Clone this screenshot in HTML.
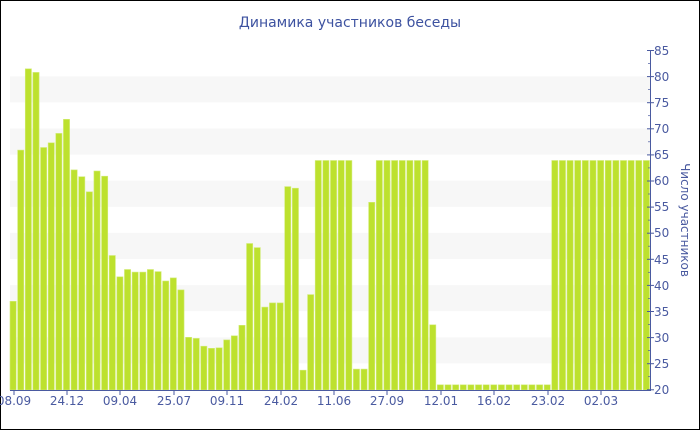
<!DOCTYPE html>
<html><head><meta charset="utf-8"><style>
html,body{margin:0;padding:0;background:#fff}
svg{display:block;font-family:"DejaVu Sans","Liberation Sans",sans-serif}
</style></head><body>
<svg width="700" height="430" xmlns="http://www.w3.org/2000/svg">
<rect x="0.5" y="0.5" width="699" height="429" fill="#fff" stroke="#000"/>
<text x="350" y="27" text-anchor="middle" font-size="14" fill="#3d52a0">Динамика участников беседы</text>
<g fill="#f7f7f7">
<rect x="10" y="76.3" width="640" height="26.1"/>
<rect x="10" y="128.5" width="640" height="26.1"/>
<rect x="10" y="180.7" width="640" height="26.1"/>
<rect x="10" y="232.9" width="640" height="26.1"/>
<rect x="10" y="285.1" width="640" height="26.1"/>
<rect x="10" y="337.3" width="640" height="26.1"/>
</g>
<g transform="translate(0,390) scale(1,-1)" fill="#bde12e" stroke="#d3ec7a" stroke-width="0.6">
<rect x="10" width="6.2" height="88.7"/>
<rect x="17.63" width="6.2" height="239.9"/>
<rect x="25.26" width="6.2" height="321.2"/>
<rect x="32.89" width="6.2" height="317.6"/>
<rect x="40.52" width="6.2" height="242.5"/>
<rect x="48.15" width="6.2" height="247.2"/>
<rect x="55.78" width="6.2" height="256.6"/>
<rect x="63.41" width="6.2" height="270.7"/>
<rect x="71.04" width="6.2" height="220.1"/>
<rect x="78.67" width="6.2" height="213.3"/>
<rect x="86.3" width="6.2" height="198.2"/>
<rect x="93.93" width="6.2" height="219"/>
<rect x="101.56" width="6.2" height="213.8"/>
<rect x="109.19" width="6.2" height="134.5"/>
<rect x="116.82" width="6.2" height="113.2"/>
<rect x="124.45" width="6.2" height="120.5"/>
<rect x="132.08" width="6.2" height="117.9"/>
<rect x="139.71" width="6.2" height="117.9"/>
<rect x="147.34" width="6.2" height="120.5"/>
<rect x="154.97" width="6.2" height="118.4"/>
<rect x="162.6" width="6.2" height="109"/>
<rect x="170.23" width="6.2" height="112.1"/>
<rect x="177.86" width="6.2" height="100.1"/>
<rect x="185.49" width="6.2" height="52.7"/>
<rect x="193.12" width="6.2" height="51.6"/>
<rect x="200.75" width="6.2" height="43.8"/>
<rect x="208.38" width="6.2" height="41.7"/>
<rect x="216.01" width="6.2" height="42.2"/>
<rect x="223.64" width="6.2" height="50.1"/>
<rect x="231.27" width="6.2" height="54.2"/>
<rect x="238.9" width="6.2" height="64.7"/>
<rect x="246.53" width="6.2" height="146.5"/>
<rect x="254.16" width="6.2" height="142.4"/>
<rect x="261.79" width="6.2" height="82.9"/>
<rect x="269.42" width="6.2" height="87.1"/>
<rect x="277.05" width="6.2" height="87.1"/>
<rect x="284.68" width="6.2" height="203.4"/>
<rect x="292.31" width="6.2" height="201.8"/>
<rect x="299.94" width="6.2" height="19.8"/>
<rect x="307.57" width="6.2" height="95.4"/>
<rect x="315.2" width="6.2" height="229.5"/>
<rect x="322.83" width="6.2" height="229.5"/>
<rect x="330.46" width="6.2" height="229.5"/>
<rect x="338.09" width="6.2" height="229.5"/>
<rect x="345.72" width="6.2" height="229.5"/>
<rect x="353.35" width="6.2" height="20.9"/>
<rect x="360.98" width="6.2" height="20.9"/>
<rect x="368.61" width="6.2" height="187.7"/>
<rect x="376.24" width="6.2" height="229.5"/>
<rect x="383.87" width="6.2" height="229.5"/>
<rect x="391.5" width="6.2" height="229.5"/>
<rect x="399.13" width="6.2" height="229.5"/>
<rect x="406.76" width="6.2" height="229.5"/>
<rect x="414.39" width="6.2" height="229.5"/>
<rect x="422.02" width="6.2" height="229.5"/>
<rect x="429.65" width="6.2" height="65.2"/>
<rect x="437.28" width="6.2" height="5.2"/>
<rect x="444.91" width="6.2" height="5.2"/>
<rect x="452.54" width="6.2" height="5.2"/>
<rect x="460.17" width="6.2" height="5.2"/>
<rect x="467.8" width="6.2" height="5.2"/>
<rect x="475.43" width="6.2" height="5.2"/>
<rect x="483.06" width="6.2" height="5.2"/>
<rect x="490.69" width="6.2" height="5.2"/>
<rect x="498.32" width="6.2" height="5.2"/>
<rect x="505.95" width="6.2" height="5.2"/>
<rect x="513.58" width="6.2" height="5.2"/>
<rect x="521.21" width="6.2" height="5.2"/>
<rect x="528.84" width="6.2" height="5.2"/>
<rect x="536.47" width="6.2" height="5.2"/>
<rect x="544.1" width="6.2" height="5.2"/>
<rect x="551.73" width="6.2" height="229.5"/>
<rect x="559.36" width="6.2" height="229.5"/>
<rect x="566.99" width="6.2" height="229.5"/>
<rect x="574.62" width="6.2" height="229.5"/>
<rect x="582.25" width="6.2" height="229.5"/>
<rect x="589.88" width="6.2" height="229.5"/>
<rect x="597.51" width="6.2" height="229.5"/>
<rect x="605.14" width="6.2" height="229.5"/>
<rect x="612.77" width="6.2" height="229.5"/>
<rect x="620.4" width="6.2" height="229.5"/>
<rect x="628.03" width="6.2" height="229.5"/>
<rect x="635.66" width="6.2" height="229.5"/>
<rect x="643.29" width="6.2" height="229.5"/>
</g>
<g stroke="#4a5aa0" stroke-width="1">
<line x1="10" y1="390.5" x2="650" y2="390.5"/>
<line x1="650.5" y1="50" x2="650.5" y2="391"/>
<line x1="14" y1="390" x2="14" y2="395"/>
<line x1="67" y1="390" x2="67" y2="395"/>
<line x1="120" y1="390" x2="120" y2="395"/>
<line x1="174" y1="390" x2="174" y2="395"/>
<line x1="227" y1="390" x2="227" y2="395"/>
<line x1="281" y1="390" x2="281" y2="395"/>
<line x1="334" y1="390" x2="334" y2="395"/>
<line x1="387" y1="390" x2="387" y2="395"/>
<line x1="441" y1="390" x2="441" y2="395"/>
<line x1="494" y1="390" x2="494" y2="395"/>
<line x1="548" y1="390" x2="548" y2="395"/>
<line x1="601" y1="390" x2="601" y2="395"/>
<line x1="647" y1="50.5" x2="654" y2="50.5"/>
<line x1="647" y1="76.6" x2="654" y2="76.6"/>
<line x1="647" y1="102.7" x2="654" y2="102.7"/>
<line x1="647" y1="128.8" x2="654" y2="128.8"/>
<line x1="647" y1="154.9" x2="654" y2="154.9"/>
<line x1="647" y1="181" x2="654" y2="181"/>
<line x1="647" y1="207.1" x2="654" y2="207.1"/>
<line x1="647" y1="233.2" x2="654" y2="233.2"/>
<line x1="647" y1="259.3" x2="654" y2="259.3"/>
<line x1="647" y1="285.4" x2="654" y2="285.4"/>
<line x1="647" y1="311.5" x2="654" y2="311.5"/>
<line x1="647" y1="337.6" x2="654" y2="337.6"/>
<line x1="647" y1="363.7" x2="654" y2="363.7"/>
<line x1="647" y1="389.8" x2="654" y2="389.8"/>
</g>
<g stroke="#4a5aa0" stroke-width="0.7">
<line x1="648" y1="63.5" x2="650" y2="63.5"/>
<line x1="648" y1="89.6" x2="650" y2="89.6"/>
<line x1="648" y1="115.7" x2="650" y2="115.7"/>
<line x1="648" y1="141.8" x2="650" y2="141.8"/>
<line x1="648" y1="167.9" x2="650" y2="167.9"/>
<line x1="648" y1="194" x2="650" y2="194"/>
<line x1="648" y1="220.1" x2="650" y2="220.1"/>
<line x1="648" y1="246.2" x2="650" y2="246.2"/>
<line x1="648" y1="272.3" x2="650" y2="272.3"/>
<line x1="648" y1="298.4" x2="650" y2="298.4"/>
<line x1="648" y1="324.5" x2="650" y2="324.5"/>
<line x1="648" y1="350.6" x2="650" y2="350.6"/>
<line x1="648" y1="376.7" x2="650" y2="376.7"/>
</g>
<g font-size="12" fill="#4a5aa0" text-anchor="middle">
<text x="14" y="405">08.09</text>
<text x="67" y="405">24.12</text>
<text x="120" y="405">09.04</text>
<text x="174" y="405">25.07</text>
<text x="227" y="405">09.11</text>
<text x="281" y="405">24.02</text>
<text x="334" y="405">11.06</text>
<text x="387" y="405">27.09</text>
<text x="441" y="405">12.01</text>
<text x="494" y="405">16.02</text>
<text x="548" y="405">23.02</text>
<text x="601" y="405">02.03</text>
</g>
<g font-size="12" fill="#4a5aa0">
<text x="654" y="55">85</text>
<text x="654" y="81">80</text>
<text x="654" y="107">75</text>
<text x="654" y="133">70</text>
<text x="654" y="159">65</text>
<text x="654" y="185">60</text>
<text x="654" y="211">55</text>
<text x="654" y="237">50</text>
<text x="654" y="264">45</text>
<text x="654" y="290">40</text>
<text x="654" y="316">35</text>
<text x="654" y="342">30</text>
<text x="654" y="368">25</text>
<text x="654" y="394">20</text>
</g>
<text transform="translate(681,220) rotate(90)" text-anchor="middle" font-size="12" fill="#4a5aa0">Число участников</text>
</svg>
</body></html>
